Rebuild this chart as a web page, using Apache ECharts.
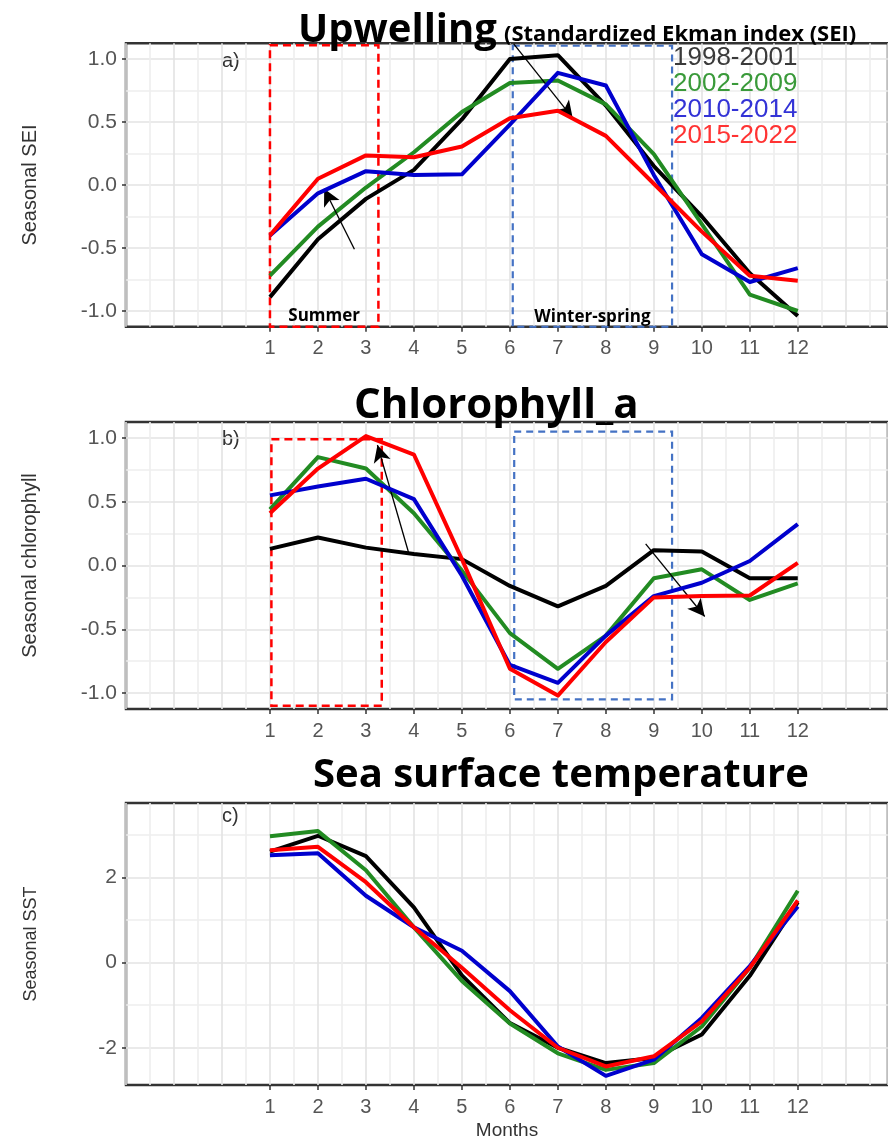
<!DOCTYPE html>
<html>
<head>
<meta charset="utf-8">
<script src="https://cdn.jsdelivr.net/npm/echarts@6/dist/echarts.min.js"></script>
<style>
html,body{margin:0;padding:0;background:#fff;}
#chart{width:888px;height:1141px;}
</style>
</head>
<body>
<div id="chart"></div>
<script>
// ---------------- data ----------------
const months = [1,2,3,4,5,6,7,8,9,10,11,12];
const periods = ['1998-2001','2002-2009','2010-2014','2015-2022'];
const lineColors = ['#000000','#228B22','#0000CD','#FF0000'];
const legendColors = ['#3a3a3a','#3a9a3a','#3333d6','#ff3333'];

// a) Seasonal SEI
const seiP1 = [-0.89,-0.43,-0.11,0.12,0.52,1.00,1.03,0.63,0.15,-0.25,-0.70,-1.04];
const seiP2 = [-0.72,-0.33,-0.02,0.26,0.58,0.81,0.83,0.64,0.245,-0.31,-0.87,-1.00];
const seiP3 = [-0.40,-0.066,0.11,0.08,0.085,0.48,0.89,0.79,0.08,-0.55,-0.77,-0.66];
const seiP4 = [-0.40,0.05,0.235,0.22,0.305,0.53,0.59,0.39,0.01,-0.37,-0.72,-0.76];

// b) Seasonal chlorophyll
const chlP1 = [0.13,0.22,0.14,0.09,0.05,-0.16,-0.32,-0.16,0.12,0.11,-0.10,-0.10];
const chlP2 = [0.44,0.85,0.76,0.41,-0.04,-0.53,-0.81,-0.55,-0.10,-0.03,-0.27,-0.14];
const chlP3 = [0.55,0.62,0.68,0.52,-0.08,-0.78,-0.92,-0.55,-0.24,-0.135,0.035,0.325];
const chlP4 = [0.41,0.76,1.015,0.87,0.05,-0.81,-1.02,-0.60,-0.25,-0.24,-0.235,0.02];

// c) Seasonal SST
const sstP1 = [2.61,2.98,2.50,1.30,-0.30,-1.42,-2.00,-2.36,-2.24,-1.69,-0.31,1.42];
const sstP2 = [2.97,3.09,2.17,0.83,-0.43,-1.43,-2.13,-2.52,-2.36,-1.50,-0.12,1.69];
const sstP3 = [2.52,2.57,1.57,0.83,0.28,-0.67,-1.97,-2.66,-2.28,-1.30,-0.08,1.32];
const sstP4 = [2.64,2.72,1.89,0.83,-0.12,-1.12,-2.00,-2.44,-2.20,-1.38,-0.12,1.46];

// tick labels
const monthTicks = months;
const seiTicks = [-1,-0.5,0,0.5,1];
const chlTicks = [-1,-0.5,0,0.5,1];
const sstTicks = [-2,0,2];

// annotation boxes [x1, y1, x2, y2] in data units
const seiSummerBox = [1.0, 1.11, 3.26, -1.19];
const seiWinterBox = [6.06, 1.105, 9.38, -1.125];
const chlSummerBox = [1.03, 0.99, 3.33, -1.10];
const chlWinterBox = [6.09, 1.05, 9.38, -1.05];

// arrows [[x1,y1],[x2,y2]] in data units
const seiArrows = [[[2.76,-0.51],[2.13,-0.03]], [[6.08,1.12],[7.31,0.53]]];
const chlArrows = [[[3.89,0.10],[3.24,0.945]], [[8.83,0.17],[10.06,-0.40]]];

// ---------------- helpers ----------------
const MAJOR = '#e3e3e3', MINOR = '#eeeeee', NONE = 'rgba(0,0,0,0)';
function gridColors(min, max, step, majorEvery, minorEvery) {
  const out = [];
  const n = Math.round((max - min) / step) + 3;
  const isMult = (v, m) => Math.abs(v / m - Math.round(v / m)) < 1e-6;
  for (let i = 0; i < n; i++) {
    const v = min + i * step;
    out.push(isMult(v, majorEvery) ? MAJOR : (isMult(v, minorEvery) ? MINOR : NONE));
  }
  return out;
}

const X_MIN = -2, X_MAX = 13.88;
const gridLeft = 126, gridWidth = 767;
const grids = [
  {left: gridLeft, width: gridWidth, top: 43.25, height: 283.5},
  {left: gridLeft, width: gridWidth, top: 422, height: 287},
  {left: gridLeft, width: gridWidth, top: 803, height: 284}
];
grids.forEach(g => { g.show = true; g.borderColor = '#333333'; g.borderWidth = 2.5; g.backgroundColor = 'transparent'; });

const labelFont = 'Liberation Sans';
const yRanges = [[-1.125, 1.125, 0.125, 0.5, 0.25], [-1.125, 1.125, 0.125, 0.5, 0.25], [-2.875, 3.75, 0.125, 2, 1]];

// primary axes: grid lines only
const xPrimary = [0,1,2].map(idx => ({
  type: 'value', gridIndex: idx, min: X_MIN, max: X_MAX, interval: 0.5, position: 'bottom',
  axisLine: {show: false, onZero: false}, axisTick: {show: false}, axisLabel: {show: false},
  splitLine: {show: true, lineStyle: {width: 1.6, color: gridColors(X_MIN, X_MAX, 0.5, 1, 0.5)}}
}));
const yPrimary = [0,1,2].map(idx => {
  const r = yRanges[idx];
  return {
    type: 'value', gridIndex: idx, min: r[0], max: r[1], interval: r[2], position: 'left',
    axisLine: {show: false, onZero: false}, axisTick: {show: false}, axisLabel: {show: false},
    splitLine: {show: true, lineStyle: {width: 1.6, color: gridColors(r[0], r[1], r[2], r[3], r[4])}}
  };
});
// secondary axes: ticks, labels, names
const xSecondary = [0,1,2].map(idx => {
  const ax = {
    type: 'value', gridIndex: idx, min: X_MIN, max: X_MAX, position: 'bottom',
    axisLine: {show: false, onZero: false},
    axisTick: {show: true, customValues: monthTicks, length: 5, lineStyle: {color: '#333', width: 1.5}},
    axisLabel: {show: true, customValues: monthTicks, margin: 12, fontSize: 20, color: '#555', fontFamily: labelFont},
    splitLine: {show: false}
  };
  if (idx === 2) {
    ax.name = 'Months'; ax.nameLocation = 'middle'; ax.nameGap = 36;
    ax.nameTextStyle = {fontSize: 19, color: '#333', fontFamily: labelFont};
  }
  return ax;
});
const yNames = ['Seasonal SEI', 'Seasonal chlorophyll', 'Seasonal SST'];
const yNameSizes = [20, 20, 18];
const yTickSets = [seiTicks, chlTicks, sstTicks];
const yFormats = [v => v.toFixed(1), v => v.toFixed(1), v => String(Math.round(v))];
const ySecondary = [0,1,2].map(idx => {
  const r = yRanges[idx];
  return {
    type: 'value', gridIndex: idx, min: r[0], max: r[1], position: 'left',
    name: yNames[idx], nameLocation: 'middle', nameGap: 86, nameRotate: 90,
    nameTextStyle: {fontSize: yNameSizes[idx], color: '#333', fontFamily: labelFont},
    axisLine: {show: false, onZero: false},
    axisTick: {show: true, customValues: yTickSets[idx], length: 4, lineStyle: {color: '#333', width: 1.5}},
    axisLabel: {show: true, customValues: yTickSets[idx], margin: 9, fontSize: 21, color: '#555', fontFamily: labelFont,
      formatter: yFormats[idx]},
    splitLine: {show: false}
  };
});

function pairs(vals) { return months.map((m, i) => [m, vals[i]]); }

function boxItem(b, color, width, dash, labelText, labelDist) {
  const first = {coord: [b[0], b[1]],
    itemStyle: {color: 'rgba(0,0,0,0)', borderColor: color, borderWidth: width, borderType: dash}};
  if (labelText) {
    first.name = labelText;
    first.label = {show: true, position: 'insideBottom', distance: labelDist, formatter: labelText,
      color: '#000', fontSize: 17, fontWeight: 'bold', fontFamily: 'Open Sans'};
  } else {
    first.label = {show: false};
  }
  return [first, {coord: [b[2], b[3]]}];
}

function panelSeries(idx, data4, boxes, arrows) {
  const s = data4.map((vals, k) => ({
    type: 'line', name: periods[k], xAxisIndex: idx, yAxisIndex: idx,
    data: pairs(vals), showSymbol: false, symbol: 'none',
    lineStyle: {color: lineColors[k], width: 4, join: 'round'},
    itemStyle: {color: lineColors[k]},
    z: 3 + k, clip: false, silent: true
  }));
  const last = s[s.length - 1];
  if (boxes) {
    last.markArea = {silent: true, data: boxes};
  }
  if (arrows) {
    last.markLine = {
      silent: true, symbol: ['none', 'arrow'], symbolSize: [13, 17], precision: 3,
      lineStyle: {color: '#000', width: 1.3, type: 'solid'}, label: {show: false},
      data: arrows.map(a => [{coord: a[0]}, {coord: a[1]}])
    };
  }
  return s;
}

const series = [].concat(
  panelSeries(0, [seiP1, seiP2, seiP3, seiP4], [
    boxItem(seiSummerBox, '#ff0000', 2.5, [8, 5], 'Summer', 3),
    boxItem(seiWinterBox, '#4472C4', 2.2, [7, 5], 'Winter-spring', 2)
  ], seiArrows),
  panelSeries(1, [chlP1, chlP2, chlP3, chlP4], [
    boxItem(chlSummerBox, '#ff0000', 2.5, [8, 5], null, 0),
    boxItem(chlWinterBox, '#4472C4', 2.2, [7, 5], null, 0)
  ], chlArrows),
  panelSeries(2, [sstP1, sstP2, sstP3, sstP4], null, null)
);

const titleFont = 'Open Sans';
const option = {
  animation: false,
  backgroundColor: '#ffffff',
  title: [
    {text: 'Upwelling', left: 293, top: 4, textStyle: {fontFamily: titleFont, fontWeight: 'bold', fontSize: 40, lineHeight: 44, color: '#000'}},
    {text: '(Standardized Ekman index (SEI)', left: 499, top: 17, textStyle: {fontFamily: titleFont, fontWeight: 'bold', fontSize: 22, lineHeight: 26, color: '#000'}},
    {text: 'Chlorophyll_a', left: 349, top: 378, textStyle: {fontFamily: titleFont, fontWeight: 'bold', fontSize: 42, lineHeight: 46, color: '#000'}},
    {text: 'Sea surface temperature', left: 308, top: 749, textStyle: {fontFamily: titleFont, fontWeight: 'bold', fontSize: 40, lineHeight: 44, color: '#000'}}
  ],
  legend: {
    orient: 'vertical', left: 668, top: 45, itemWidth: 0, itemHeight: 0, itemGap: 0,
    icon: 'rect', selectedMode: false, padding: 0,
    textStyle: {fontSize: 26, lineHeight: 24, fontFamily: labelFont},
    data: periods.map((p, k) => ({name: p, textStyle: {color: legendColors[k]}}))
  },
  grid: grids,
  xAxis: xPrimary.concat(xSecondary),
  yAxis: yPrimary.concat(ySecondary),
  graphic: [
    {type: 'text', left: 222, top: 51, style: {text: 'a)', fontSize: 20, fill: '#333', fontFamily: labelFont}},
    {type: 'text', left: 222, top: 429, style: {text: 'b)', fontSize: 20, fill: '#333', fontFamily: labelFont}},
    {type: 'text', left: 222, top: 806, style: {text: 'c)', fontSize: 20, fill: '#333', fontFamily: labelFont}}
  ],
  series: series
};

const chart = echarts.init(document.getElementById('chart'), null, {renderer: 'canvas'});
chart.setOption(option);
</script>
</body>
</html>
